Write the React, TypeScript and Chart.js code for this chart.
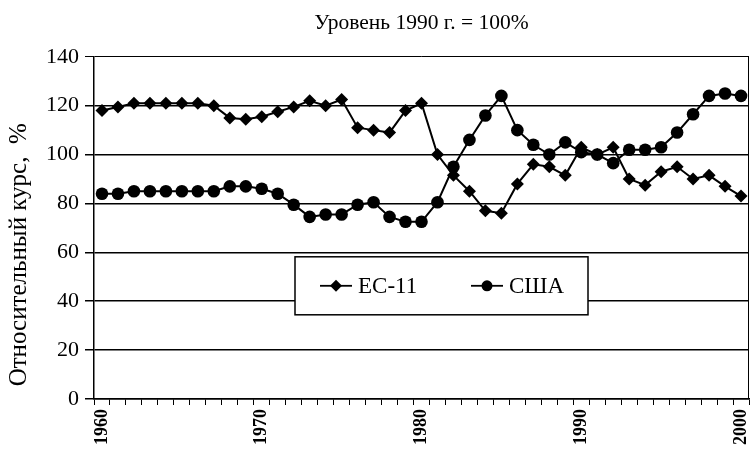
import React, { useEffect, useRef } from 'react';
import { Chart, registerables } from 'chart.js';

Chart.register(...registerables);

const years = [
  '1960', '1961', '1962', '1963', '1964', '1965', '1966', '1967', '1968', '1969',
  '1970', '1971', '1972', '1973', '1974', '1975', '1976', '1977', '1978', '1979',
  '1980', '1981', '1982', '1983', '1984', '1985', '1986', '1987', '1988', '1989',
  '1990', '1991', '1992', '1993', '1994', '1995', '1996', '1997', '1998', '1999',
  '2000',
];

const ec11 = [
  118, 119.5, 121, 121, 121, 121, 121, 120, 115, 114.5,
  115.5, 117.5, 119.5, 122, 120, 122.5, 111, 110, 109, 118,
  121, 100, 91.5, 85, 77, 76, 88, 96, 95, 91.5,
  103, 100, 103, 90, 87.5, 93, 95, 90, 91.5, 87,
  83,
];

const usa = [
  84, 84, 85, 85, 85, 85, 85, 85, 87, 87,
  86, 84, 79.5, 74.5, 75.5, 75.5, 79.5, 80.5, 74.5, 72.5,
  72.5, 80.5, 95, 106, 116, 124, 110, 104, 100, 105,
  101, 100, 96.5, 102, 102, 103, 109, 116.5, 124, 125,
  124,
];

const seriesLabels = ['ЕС-11', 'США'];
const chartTitle = 'Уровень 1990 г. = 100%';
const yAxisTitle = 'Относительный курс,  %';
const yMin = 0;
const yMax = 140;
const yStep = 20;
const labelEvery = 10;

const FONT = '"Liberation Serif", "Times New Roman", serif';

const boxLegend = {
  id: 'boxLegend',
  afterDraw(chart: any) {
    const { ctx, chartArea } = chart;
    const x0 = chartArea.left + 201;
    const y0 = chartArea.top + 200;
    const w = 293;
    const h = 58;
    ctx.save();
    ctx.fillStyle = '#fff';
    ctx.fillRect(x0, y0, w, h);
    ctx.strokeStyle = '#000';
    ctx.lineWidth = 1.5;
    ctx.strokeRect(x0, y0, w, h);
    const cy = y0 + h / 2;
    chart.data.datasets.forEach((ds: any, i: number) => {
      const lx = x0 + 25 + i * 151;
      ctx.strokeStyle = '#000';
      ctx.lineWidth = 1.8;
      ctx.beginPath();
      ctx.moveTo(lx, cy);
      ctx.lineTo(lx + 32, cy);
      ctx.stroke();
      ctx.fillStyle = '#000';
      const mx = lx + 16;
      ctx.beginPath();
      if (ds.pointStyle === 'rectRot') {
        const r = 6;
        ctx.moveTo(mx, cy - r);
        ctx.lineTo(mx + r, cy);
        ctx.lineTo(mx, cy + r);
        ctx.lineTo(mx - r, cy);
        ctx.closePath();
      } else {
        ctx.arc(mx, cy, 5.5, 0, Math.PI * 2);
      }
      ctx.fill();
      ctx.font = `23px ${FONT}`;
      ctx.textBaseline = 'middle';
      ctx.textAlign = 'left';
      ctx.fillText(ds.label, lx + 38, cy + 1);
    });
    // right border of plot area
    ctx.strokeStyle = '#000';
    ctx.lineWidth = 1;
    ctx.beginPath();
    ctx.moveTo(chartArea.right - 0.5, chartArea.top);
    ctx.lineTo(chartArea.right - 0.5, chartArea.bottom);
    ctx.stroke();
    // y axis title
    ctx.save();
    ctx.translate(19, chartArea.top + 198);
    ctx.rotate(-Math.PI / 2);
    ctx.fillStyle = '#000';
    ctx.font = `25px ${FONT}`;
    ctx.textAlign = 'center';
    ctx.textBaseline = 'middle';
    ctx.fillText(yAxisTitle, 0, 0);
    ctx.restore();
    ctx.restore();
  },
};

export default function App() {
  const ref = useRef<HTMLCanvasElement | null>(null);

  useEffect(() => {
    if (!ref.current) return;
    const chart = new Chart(ref.current, {
      type: 'line',
      data: {
        labels: years,
        datasets: [
          {
            label: seriesLabels[0],
            data: ec11,
            borderColor: '#000',
            backgroundColor: '#000',
            borderWidth: 2,
            pointStyle: 'rectRot',
            pointRadius: 6.5,
            pointBorderWidth: 0,
            tension: 0,
            order: 2,
          },
          {
            label: seriesLabels[1],
            data: usa,
            borderColor: '#000',
            backgroundColor: '#000',
            borderWidth: 2,
            pointStyle: 'circle',
            pointRadius: 6.3,
            pointBorderWidth: 0,
            tension: 0,
            order: 1,
          },
        ],
      },
      options: {
        animation: false,
        responsive: false,
        maintainAspectRatio: false,
        layout: { autoPadding: false, padding: { left: 0, right: 1, top: 0, bottom: 0 } },
        plugins: {
          legend: { display: false },
          tooltip: { enabled: false },
          title: {
            display: true,
            text: chartTitle,
            fullSize: false,
            color: '#000',
            font: { family: FONT, size: 21.5, weight: 'normal', lineHeight: 1.2 },
            padding: { top: 10, bottom: 21 },
          },
        },
        scales: {
          x: {
            type: 'category',
            offset: true,
            grid: {
              display: true,
              offset: true,
              drawOnChartArea: false,
              drawTicks: true,
              tickLength: 6,
              color: '#000',
              lineWidth: 1,
            },
            border: { display: true, color: '#000', width: 1.5 },
            ticks: {
              autoSkip: false,
              maxRotation: 90,
              minRotation: 90,
              padding: 4,
              color: '#000',
              font: { family: FONT, size: 18, weight: 'bold' },
              callback: (_v: any, i: number) =>
                Number(years[i]) % labelEvery === 0 ? years[i] : '',
            },
            afterFit: (s: any) => {
              s.height = 50;
              s.paddingLeft = 0;
              s.paddingRight = 0;
            },
          },
          y: {
            min: yMin,
            max: yMax,
            grid: {
              display: true,
              drawOnChartArea: true,
              drawTicks: true,
              tickLength: 9,
              color: '#000',
              lineWidth: (c: any) => (c.tick && c.tick.value === yMax ? 1 : 1.5),
            },
            border: { display: true, color: '#000', width: 1.5 },
            ticks: {
              stepSize: yStep,
              padding: 6,
              color: '#000',
              font: { family: FONT, size: 22 },
            },
            afterFit: (s: any) => {
              s.width = 94;
              s.paddingTop = 0;
              s.paddingBottom = 0;
            },
          },
        },
      },
      plugins: [boxLegend],
    });
    return () => chart.destroy();
  }, []);

  return (
    <div style={{ position: 'fixed', left: 0, top: 0, width: 750, height: 449, background: '#fff' }}>
      <canvas ref={ref} width={750} height={449} style={{ width: 750, height: 449, display: 'block' }} />
    </div>
  );
}
